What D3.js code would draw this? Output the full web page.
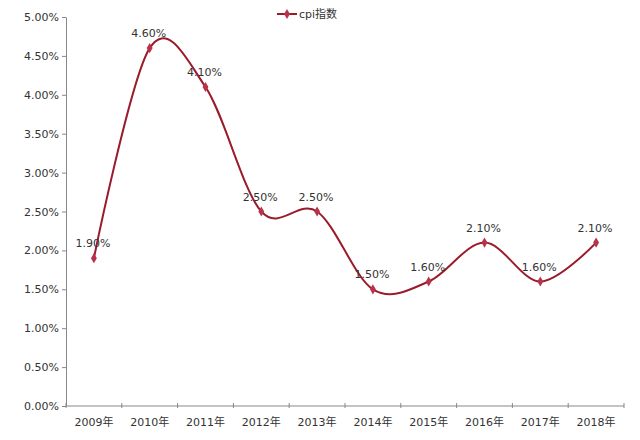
<!DOCTYPE html>
<html><head><meta charset="utf-8">
<script src="https://cdn.jsdelivr.net/npm/d3@7"></script>
<style>
body{margin:0;background:#fff;}
text{font-family:"DejaVu Sans","Noto Sans CJK SC",sans-serif;}
</style></head>
<body><svg id="c" width="640" height="440"></svg>
<script>
const categories = ["2009年","2010年","2011年","2012年","2013年","2014年","2015年","2016年","2017年","2018年"];
const cpiValues = [1.9, 4.6, 4.1, 2.5, 2.5, 1.5, 1.6, 2.1, 1.6, 2.1];
const yTicks = [0, 0.5, 1, 1.5, 2, 2.5, 3, 3.5, 4, 4.5, 5];
const seriesName = "cpi指数";

(function(){
const svg = d3.select("#c");
const mL = 66, mR = 624, mT = 17, mB = 406;
const lineColor = "#9a1c2a", markColor = "#b8324a", textColor = "#333";

const x = d3.scaleBand().domain(categories).range([mL, mR]);
const y = d3.scaleLinear().domain([0, 5]).range([mB, mT]);

// y axis
const yAxis = svg.append("g").attr("transform", `translate(${mL},0)`)
  .call(d3.axisLeft(y).tickValues(yTicks).tickSize(4).tickSizeOuter(0).tickFormat(d => d.toFixed(2) + "%"));
yAxis.select(".domain").attr("stroke", "#888");
yAxis.selectAll(".tick line").attr("stroke", "#888");
yAxis.selectAll("text").attr("fill", textColor).attr("font-size", 11).attr("x", -7);

// x axis
const xAxis = svg.append("g").attr("transform", `translate(0,${mB})`)
  .call(d3.axisBottom(x).tickSize(0).tickSizeOuter(0));
xAxis.select(".domain").attr("stroke", "#888").attr("d", `M${mL},0H${mR}`);
xAxis.selectAll("text").attr("fill", textColor).attr("font-size", 11).attr("dy", "1.55em");
const bounds = categories.map(c => x(c)).concat([x(categories[categories.length-1]) + x.bandwidth()]);
xAxis.selectAll(".bt").data(bounds).enter().append("line")
  .attr("x1", d => d).attr("x2", d => d).attr("y1", -3).attr("y2", 2).attr("stroke", "#888");

// line
const pts = categories.map((c, i) => [x(c) + x.bandwidth() / 2, y(cpiValues[i])]);
svg.append("path").datum(pts)
  .attr("d", d3.line().curve(d3.curveCatmullRom.alpha(0)))
  .attr("fill", "none").attr("stroke", lineColor).attr("stroke-width", 2);

// markers
const sym = d3.symbol().type(d3.symbolDiamond).size(30);
svg.selectAll(".m").data(pts).enter().append("path")
  .attr("d", sym).attr("transform", d => `translate(${d[0]},${d[1]})`)
  .attr("fill", markColor);

// labels
svg.selectAll(".lb").data(cpiValues).enter().append("text")
  .attr("x", (d, i) => pts[i][0] - 1).attr("y", (d, i) => pts[i][1] - 11)
  .attr("text-anchor", "middle").attr("font-size", 11).attr("fill", textColor)
  .text(d => d.toFixed(2) + "%");

// legend
const lg = svg.append("g");
lg.append("line").attr("x1", 277).attr("x2", 297).attr("y1", 14).attr("y2", 14)
  .attr("stroke", lineColor).attr("stroke-width", 2);
lg.append("path").attr("d", sym).attr("transform", "translate(287,14)").attr("fill", markColor);
lg.append("text").attr("x", 299).attr("y", 18).attr("font-size", 11).attr("fill", textColor).text(seriesName);
})();
</script></body></html>
